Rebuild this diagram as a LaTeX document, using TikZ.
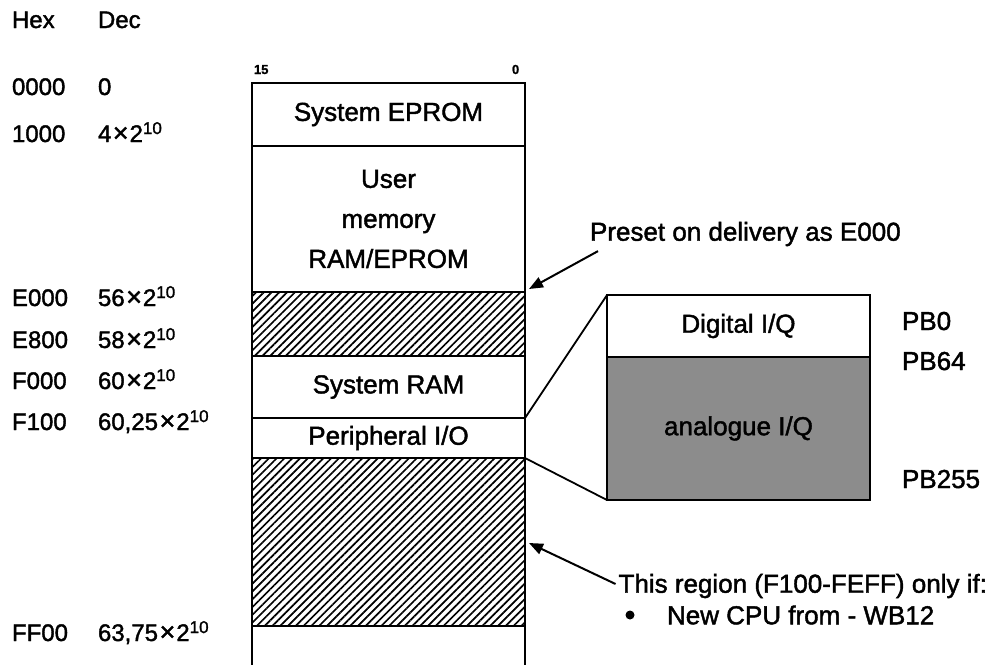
\documentclass[tikz,border=0pt]{standalone}
\usepackage{fontspec}
\setmainfont{Liberation Sans}[FakeBold=1.6]
\usetikzlibrary{arrows.meta,patterns.meta}
\newcommand\myexp[1]{\raisebox{8pt}{\fontsize{17}{17}\selectfont #1}}
\newcommand\mytimes{\kern1.5pt{\fontsize{27}{27}\selectfont ×}\kern1pt}
\begin{document}
\begin{tikzpicture}[x=1pt,y=-1pt,
  every node/.style={font=\fontsize{26}{30}\selectfont, inner sep=0pt, outer sep=0pt},
  seg/.style={draw, line width=2.6pt, minimum width=273pt, anchor=north west, align=center},
  hatch/.style={seg, pattern={Lines[angle=45,distance=5.5pt,line width=1.7pt]}},
  lbl/.style={anchor=base west},
  addr/.style={anchor=base west, font=\fontsize{24}{28}\selectfont},
  conn/.style={line width=1.8pt},
  arr/.style={line width=2pt, -{Triangle[length=14pt,width=11pt]}},
  small/.style={font=\fontsize{13}{14}\selectfont\bfseries, anchor=base west},
]
\useasboundingbox (0,0) rectangle (990,665);

% column headings
\node[addr] (hex) at (12,28) {Hex};
\node[addr] (dec) at (98,28) {Dec};
\node[small] (b15) at (254,74) {15};
\node[small] (b0) at (512,74) {0};

% address labels
\node[addr] (h0) at (12,95) {0000};
\node[addr] (d0) at (98,95) {0};
\node[addr] (h1) at (12,142) {1000};
\node[addr] (d1) at (98,142) {4\mytimes2\myexp{10}};
\node[addr] (h2) at (12,306) {E000};
\node[addr] (d2) at (98,306) {56\mytimes2\myexp{10}};
\node[addr] (h3) at (12,348) {E800};
\node[addr] (d3) at (98,348) {58\mytimes2\myexp{10}};
\node[addr] (h4) at (12,389) {F000};
\node[addr] (d4) at (98,389) {60\mytimes2\myexp{10}};
\node[addr] (h5) at (12,430) {F100};
\node[addr] (d5) at (98,430) {60,25\mytimes2\myexp{10}};
\node[addr] (h6) at (12,641) {FF00};
\node[addr] (d6) at (98,641) {63,75\mytimes2\myexp{10}};

% memory column
\node[seg, minimum height=63pt] (eprom) at (252,83) {System EPROM};
\node[seg, minimum height=146pt, font=\fontsize{26}{40}\selectfont] (user) at (252,146) {User\\memory\\RAM/EPROM};
\node[hatch, minimum height=64pt] (hatchA) at (252,292) {};
\node[seg, minimum height=62pt] (sysram) at (252,356) {System RAM};
\node[seg, minimum height=40pt] (periph) at (252,418) {Peripheral I/O};
\node[hatch, minimum height=168pt] (hatchB) at (252,458) {};
\coordinate (bl) at (252,665);
\coordinate (br) at (525,665);
\draw[line width=2.6pt] (hatchB.south west) -- (bl);
\draw[line width=2.6pt] (hatchB.south east) -- (br);

% I/O detail box
\node[seg, minimum width=263pt, minimum height=62pt] (dig) at (607,295) {Digital I/Q};
\node[seg, minimum width=263pt, minimum height=143pt, fill=black!45] (ana) at (607,357) {analogue I/Q};
\draw[conn] (sysram.south east) -- (dig.north west);
\draw[conn] (periph.south east) -- (ana.south west);
\node[lbl] (pb0) at (902,330) {PB0};
\node[lbl] (pb64) at (902,370) {PB64};
\node[lbl] (pb255) at (902,488) {PB255};

% annotations
\node[anchor=west] (preset) at (590,234) {Preset on delivery as E000};
\coordinate (tipA) at (529,289);
\draw[arr] ([xshift=8pt,yshift=-5pt]preset.south west) -- (tipA);

\node[anchor=east] (region) at (987,586) {This region (F100-FEFF) only if:};
\coordinate (tipB) at (529,543);
\draw[arr] ([xshift=-3pt,yshift=2pt]region.west) -- (tipB);
\node[circle, fill, minimum size=9pt] (bul) at (630,615) {};
\node[anchor=west] (cpu) at (667,615) {New CPU from - WB12};
\end{tikzpicture}
\end{document}
